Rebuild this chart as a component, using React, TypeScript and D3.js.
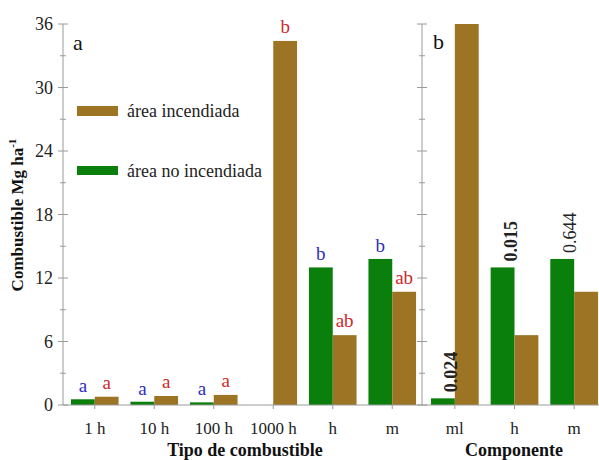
import * as d3 from "d3";

// Panel a: fuel type
const fuelTypes = ["1 h", "10 h", "100 h", "1000 h", "h", "m"];
const fuelNoBurn = [0.54, 0.31, 0.25, 0, 13.0, 13.8];
const fuelBurn = [0.78, 0.85, 0.95, 34.4, 6.6, 10.7];
const sigNoBurn = ["a", "a", "a", "", "b", "b"];
const sigBurn = ["a", "a", "a", "b", "ab", "ab"];

// Panel b: component
const components = ["ml", "h", "m"];
const compNoBurn = [0.63, 13.0, 13.8];
const compBurn = [36, 6.6, 10.7];
const pValues = ["0.024", "0.015", "0.644"];
const pBold = [true, true, false];

const yTicks = [0, 6, 12, 18, 24, 30, 36];

const GREEN = "#0b7f0b";
const BROWN = "#9c7424";
const BLUE = "#2e2ec0";
const RED = "#cc2a2a";
const AXIS = "#9a9a9a";
const FONT = "Liberation Serif, Times New Roman, DejaVu Serif, serif";

export default function App() {
  const width = 599;
  const height = 460;
  const y = d3.scaleLinear().domain([0, 36]).range([405, 24]);
  const xa = d3.scaleBand<string>().domain(fuelTypes).range([65, 422]);
  const xb = d3.scaleBand<string>().domain(components).range([425, 604]);
  const axisA = 63;
  const axisB = 422;
  const minor = d3.range(0, 37, 3);

  const yAxis = (x0: number) => (
    <g>
      <line x1={x0} x2={x0} y1={y(36)} y2={y(0)} stroke={AXIS} />
      {minor.map((t) => {
        const len = t % 6 === 0 ? 5 : 3;
        return (
          <line key={t} x1={x0 - len} x2={x0 + len} y1={y(t)} y2={y(t)} stroke={AXIS} />
        );
      })}
    </g>
  );

  const bars = (
    x: d3.ScaleBand<string>,
    cats: string[],
    green: number[],
    brown: number[]
  ) => {
    const pair = x.bandwidth() * 0.8;
    const bw = pair / 2;
    return cats.map((c, i) => {
      const cx = (x(c) ?? 0) + x.bandwidth() / 2;
      return (
        <g key={c}>
          {green[i] > 0 && (
            <rect x={cx - bw} y={y(green[i])} width={bw} height={y(0) - y(green[i])} fill={GREEN} />
          )}
          <rect x={cx} y={y(brown[i])} width={bw} height={y(0) - y(brown[i])} fill={BROWN} />
          <line x1={cx} x2={cx} y1={y(0)} y2={y(0) + 4} stroke={AXIS} />
          <text x={cx} y={434} textAnchor="middle" fontSize={17} fill="#222">
            {c}
          </text>
        </g>
      );
    });
  };

  const bwA = (xa.bandwidth() * 0.8) / 2;

  return (
    <svg
      width={width}
      height={height}
      style={{ position: "absolute", left: 0, top: 0, background: "#fff", fontFamily: FONT }}
    >
      {bars(xa, fuelTypes, fuelNoBurn, fuelBurn)}
      {bars(xb, components, compNoBurn, compBurn)}

      {/* significance letters */}
      {fuelTypes.map((c, i) => {
        const cx = (xa(c) ?? 0) + xa.bandwidth() / 2;
        return (
          <g key={c} fontSize={19} textAnchor="middle">
            {sigNoBurn[i] && (
              <text x={cx - bwA / 2} y={y(fuelNoBurn[i]) - 7} fill={BLUE}>
                {sigNoBurn[i]}
              </text>
            )}
            <text x={cx + bwA / 2} y={y(fuelBurn[i]) - 8} fill={RED}>
              {sigBurn[i]}
            </text>
          </g>
        );
      })}

      {/* p-values */}
      {components.map((c, i) => {
        const cx = (xb(c) ?? 0) + xb.bandwidth() / 2 - 4;
        const yy = y(compNoBurn[i]) - 6;
        return (
          <text
            key={c}
            transform={`translate(${cx},${yy}) rotate(-90)`}
            dominantBaseline="central"
            fontSize={18}
            fontWeight={pBold[i] ? "bold" : "normal"}
            fill="#222"
          >
            {pValues[i]}
          </text>
        );
      })}

      {/* axes */}
      <line x1={axisA} x2={width} y1={y(0)} y2={y(0)} stroke={AXIS} />
      {yAxis(axisA)}
      {yAxis(axisB)}
      {yTicks.map((t) => (
        <text key={t} x={53} y={y(t)} textAnchor="end" dominantBaseline="central" fontSize={18} fill="#222">
          {t}
        </text>
      ))}

      {/* panel labels */}
      <text x={73} y={50} fontSize={22} fill="#111">a</text>
      <text x={433} y={49} fontSize={22} fill="#111">b</text>

      {/* legend */}
      <rect x={77} y={106} width={41} height={10} fill={BROWN} />
      <text x={127} y={117} fontSize={18} fill="#222">área incendiada</text>
      <rect x={77} y={166} width={41} height={9} fill={GREEN} />
      <text x={127} y={177} fontSize={18} fill="#222">área no incendiada</text>

      {/* axis titles */}
      <text transform="translate(23,215) rotate(-90)" textAnchor="middle" fontSize={17} fontWeight="bold" fill="#111">
        Combustible Mg ha<tspan dy={-7} fontSize={11}>-1</tspan>
      </text>
      <text x={245} y={456} textAnchor="middle" fontSize={18} fontWeight="bold" fill="#111">
        Tipo de combustible
      </text>
      <text x={514} y={456} textAnchor="middle" fontSize={18} fontWeight="bold" fill="#111">
        Componente
      </text>
    </svg>
  );
}
